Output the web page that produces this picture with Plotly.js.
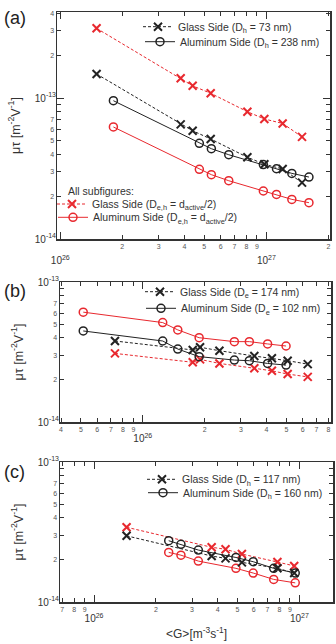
<!DOCTYPE html>
<html><head><meta charset="utf-8">
<script src="https://cdn.plot.ly/plotly-3.0.1.min.js"></script>
<style>html,body{margin:0;padding:0;background:#fff}#plot{width:336px;height:644px}</style>
</head><body><div id="plot"></div>
<script>
// ---------- data (G in m^-3 s^-1, mu*tau in m^2/V) ----------
// Panel (a)
const aGlassG   = [1.50e26, 3.84e26, 4.39e26, 5.37e26, 8.09e26, 9.78e26, 1.20e27, 1.49e27];
const aGlassFit = [1.48e-13, 6.5e-14, 5.86e-14, 5.12e-14, 3.8e-14, 3.39e-14, 3.14e-14, 2.51e-14];
const aGlassHalf= [3.12e-13, 1.38e-13, 1.22e-13, 1.08e-13, 8.0e-14, 7.1e-14, 6.6e-14, 5.3e-14];
const aAlG      = [1.81e26, 4.73e26, 5.41e26, 6.57e26, 9.67e26, 1.12e27, 1.33e27, 1.61e27];
const aAlFit    = [9.57e-14, 4.77e-14, 4.37e-14, 3.96e-14, 3.37e-14, 3.15e-14, 2.92e-14, 2.75e-14];
const aAlHalf   = [6.23e-14, 3.12e-14, 2.86e-14, 2.59e-14, 2.19e-14, 2.07e-14, 1.91e-14, 1.81e-14];
// Panel (b)
const bGlassG   = [7.32e25, 1.75e26, 1.90e26, 2.36e26, 3.49e26, 4.25e26, 5.07e26, 6.35e26];
const bGlassFit = [3.79e-14, 3.27e-14, 3.42e-14, 3.23e-14, 2.96e-14, 2.85e-14, 2.74e-14, 2.59e-14];
const bGlassHalf= [3.09e-14, 2.67e-14, 2.80e-14, 2.62e-14, 2.42e-14, 2.32e-14, 2.20e-14, 2.10e-14];
const bAlG      = [5.13e25, 1.25e26, 1.48e26, 1.88e26, 2.79e26, 3.30e26, 4.05e26, 4.98e26];
const bAlFit    = [4.47e-14, 3.79e-14, 3.32e-14, 2.93e-14, 2.77e-14, 2.74e-14, 2.62e-14, 2.55e-14];
const bAlHalf   = [6.09e-14, 5.13e-14, 4.55e-14, 4.0e-14, 3.75e-14, 3.75e-14, 3.61e-14, 3.49e-14];
// Panel (c)
const cGlassG   = [1.44e26, 3.74e26, 4.37e26, 5.25e26, 7.82e26, 9.44e26];
const cGlassFit = [2.97e-14, 2.13e-14, 2.05e-14, 1.92e-14, 1.74e-14, 1.61e-14];
const cGlassHalf= [3.42e-14, 2.46e-14, 2.38e-14, 2.20e-14, 1.93e-14, 1.81e-14];
const cAlG      = [2.31e26, 2.65e26, 3.22e26, 4.91e26, 5.96e26, 7.50e26, 9.55e26];
const cAlFit    = [2.74e-14, 2.58e-14, 2.35e-14, 2.08e-14, 1.94e-14, 1.74e-14, 1.61e-14];
const cAlHalf   = [2.26e-14, 2.16e-14, 1.96e-14, 1.74e-14, 1.61e-14, 1.45e-14, 1.37e-14];
// legend labels
const legA = ['Glass Side (D<sub>h</sub> = 73 nm)', 'Aluminum Side (D<sub>h</sub> = 238 nm)'];
const legAll = ['Glass Side (D<sub>e,h</sub> = d<sub>active</sub>/2)', 'Aluminum Side (D<sub>e,h</sub> = d<sub>active</sub>/2)'];
const legB = ['Glass Side (D<sub>e</sub> = 174 nm)', 'Aluminum Side (D<sub>e</sub> = 102 nm)'];
const legC = ['Glass Side (D<sub>h</sub> = 117 nm)', 'Aluminum Side (D<sub>h</sub> = 160 nm)'];
const xDigits = [2,3,4,5,6,7,8,9];
const yDigits = [2,3,4,5,6,7];

// ---------- styling ----------
const W = 336, H = 644;
const F = 'Liberation Sans, Arial, sans-serif';
const BLACK = '#222', RED = '#e8282e';

// labelled minor positions (digits) and unlabelled minor positions
function logTicks(lo, hi, digits){
  const vals=[], text=[], rest=[];
  for(let k=Math.floor(lo); k<=Math.ceil(hi); k++){
    for(let m=2;m<=9;m++){
      const v=m*Math.pow(10,k), l=Math.log10(v);
      if(l>=lo-1e-6 && l<=hi+1e-6){
        if(digits.includes(m)){vals.push(v); text.push(String(m));} else rest.push(v);
      }
    }
  }
  return {vals,text,rest};
}
function decadeTicks(lo, hi){
  const vals=[], text=[];
  for(let k=Math.ceil(lo-1e-6); k<=Math.floor(hi+1e-6); k++){vals.push(Math.pow(10,k)); text.push('10<sup>'+k+'</sup>');}
  return {vals,text};
}
function pxDomX(a,b){return [a/W,b/W];}
function pxDomY(top,bot){return [1-bot/H,1-top/H];}

function mainAxis(dom, rng, anchor, digits, extra){
  const t=logTicks(rng[0],rng[1],digits);
  const ax = {type:'log', domain:dom, range:rng, anchor:anchor, tickmode:'array',
    tickvals:t.vals, ticktext:t.text, ticks:'inside', ticklen:4, tickwidth:1, tickcolor:'#333',
    showline:true, linecolor:'#333', linewidth:1.5, mirror:'ticks', showgrid:false, zeroline:false,
    tickfont:{size:7,color:'#555',family:F}, fixedrange:true};
  if(t.rest.length) ax.minor = {tickmode:'array', tickvals:t.rest, ticks:'inside', ticklen:4, tickwidth:1, tickcolor:'#333', showgrid:false};
  return Object.assign(ax, extra||{});
}
function decAxis(over, anchor, rng, standoff){
  const t=decadeTicks(rng[0],rng[1]);
  return {type:'log', overlaying:over, anchor:anchor, range:rng, tickmode:'array', tickvals:t.vals, ticktext:t.text,
    ticks:'inside', ticklen:7, tickwidth:1, tickcolor:'#333', mirror:'ticks', showline:false, showgrid:false,
    zeroline:false, tickfont:{size:10,color:'#333',family:F}, ticklabelstandoff:standoff, fixedrange:true};
}

const dashLine = '3px,2px';
function tr(x,y,xa,ya,color,kind,legend,name){
  const isX = kind==='x';
  return {type:'scatter', mode:'lines+markers', x:x, y:y, xaxis:xa, yaxis:ya, name:name||'',
    legend:legend||'legend', showlegend:!!name, hoverinfo:'skip',
    line:{color:color, width:1, dash:isX?dashLine:'solid'},
    marker: isX ? {symbol:'x-thin', size:8, color:color, line:{width:2,color:color}}
                : {symbol:'circle-open', size:8, color:color, line:{width:1.5,color:color}}};
}
const empty = (xa,ya)=>({type:'scatter',x:[],y:[],xaxis:xa,yaxis:ya,showlegend:false,hoverinfo:'skip'});

const data = [
  tr(aGlassG,aGlassHalf,'x','y',RED,'x','legend3',legAll[0]),
  tr(aAlG,aAlHalf,'x','y',RED,'o','legend4',legAll[1]),
  tr(aGlassG,aGlassFit,'x','y',BLACK,'x','legend',legA[0]),
  tr(aAlG,aAlFit,'x','y',BLACK,'o','legend2',legA[1]),
  tr(bGlassG,bGlassHalf,'x2','y2',RED,'x'),
  tr(bAlG,bAlHalf,'x2','y2',RED,'o'),
  tr(bGlassG,bGlassFit,'x2','y2',BLACK,'x','legend5',legB[0]),
  tr(bAlG,bAlFit,'x2','y2',BLACK,'o','legend6',legB[1]),
  tr(cGlassG,cGlassHalf,'x3','y3',RED,'x'),
  tr(cAlG,cAlHalf,'x3','y3',RED,'o'),
  tr(cGlassG,cGlassFit,'x3','y3',BLACK,'x','legend7',legC[0]),
  tr(cAlG,cAlFit,'x3','y3',BLACK,'o','legend8',legC[1]),
  empty('x4','y'), empty('x','y4'),
  empty('x5','y2'), empty('x2','y5'),
  empty('x6','y3'), empty('x3','y6')
];

const rA={x:[25.984,27.309], y:[-14,-12.39]};
const rB={x:[25.597,26.916], y:[-14,-13]};
const rC={x:[25.834,27.164], y:[-14,-13]};
const ytitle = {text:'μτ [m<sup>-2</sup>V<sup>-1</sup>]', font:{size:12.5,color:'#333',family:F}, standoff:27};

function leg(xText, yCenter){
  return {x:(xText-42)/W, y:1-yCenter/H, xanchor:'left', yanchor:'middle', bgcolor:'rgba(0,0,0,0)',
    borderwidth:0, font:{size:10.5,color:'#333',family:F}, itemwidth:30};
}

const layout = {
  width:W, height:H, margin:{l:0,r:0,t:0,b:0}, paper_bgcolor:'#fff', plot_bgcolor:'#fff',
  font:{family:F,color:'#333'}, hovermode:false,
  xaxis: mainAxis(pxDomX(57,330), rA.x, 'y', xDigits),
  yaxis: mainAxis(pxDomY(12,239), rA.y, 'x', yDigits, {title:ytitle}),
  xaxis2: mainAxis(pxDomX(60,331), rB.x, 'y2', xDigits),
  yaxis2: mainAxis(pxDomY(282,422), rB.y, 'x2', yDigits, {title:ytitle}),
  xaxis3: mainAxis(pxDomX(60,333), rC.x, 'y3', xDigits,
          {title:{text:'&lt;G&gt;[m<sup>-3</sup>s<sup>-1</sup>]', font:{size:12,color:'#333',family:F}, standoff:17}}),
  yaxis3: mainAxis(pxDomY(462,602), rC.y, 'x3', yDigits, {title:ytitle}),
  xaxis4: decAxis('x','y',rA.x,14),
  yaxis4: decAxis('y','x',rA.y,0),
  xaxis5: decAxis('x2','y2',rB.x,9),
  yaxis5: decAxis('y2','x2',rB.y,0),
  xaxis6: decAxis('x3','y3',rC.x,9),
  yaxis6: decAxis('y3','x3',rC.y,0),
  legend: leg(180,26.7), legend2: leg(182,41.7),
  legend3: leg(94,204), legend4: leg(95,217.3),
  legend5: leg(182,291.7), legend6: leg(183,308.3),
  legend7: leg(184,479.3), legend8: leg(185,492.7),
  annotations:[
    {text:'(a)', xref:'paper', yref:'paper', x:2/W, y:1-18/H, xanchor:'left', yanchor:'middle', showarrow:false, font:{size:18,color:'#222',family:F}},
    {text:'(b)', xref:'paper', yref:'paper', x:2/W, y:1-291/H, xanchor:'left', yanchor:'middle', showarrow:false, font:{size:18,color:'#222',family:F}},
    {text:'(c)', xref:'paper', yref:'paper', x:2/W, y:1-472/H, xanchor:'left', yanchor:'middle', showarrow:false, font:{size:18,color:'#222',family:F}},
    {text:'All subfigures:', xref:'paper', yref:'paper', x:66/W, y:1-190.7/H, xanchor:'left', yanchor:'middle', showarrow:false, font:{size:10.5,color:'#333',family:F}}
  ]
};

Plotly.newPlot('plot', data, layout, {displayModeBar:false, staticPlot:true});
</script>
</body></html>
